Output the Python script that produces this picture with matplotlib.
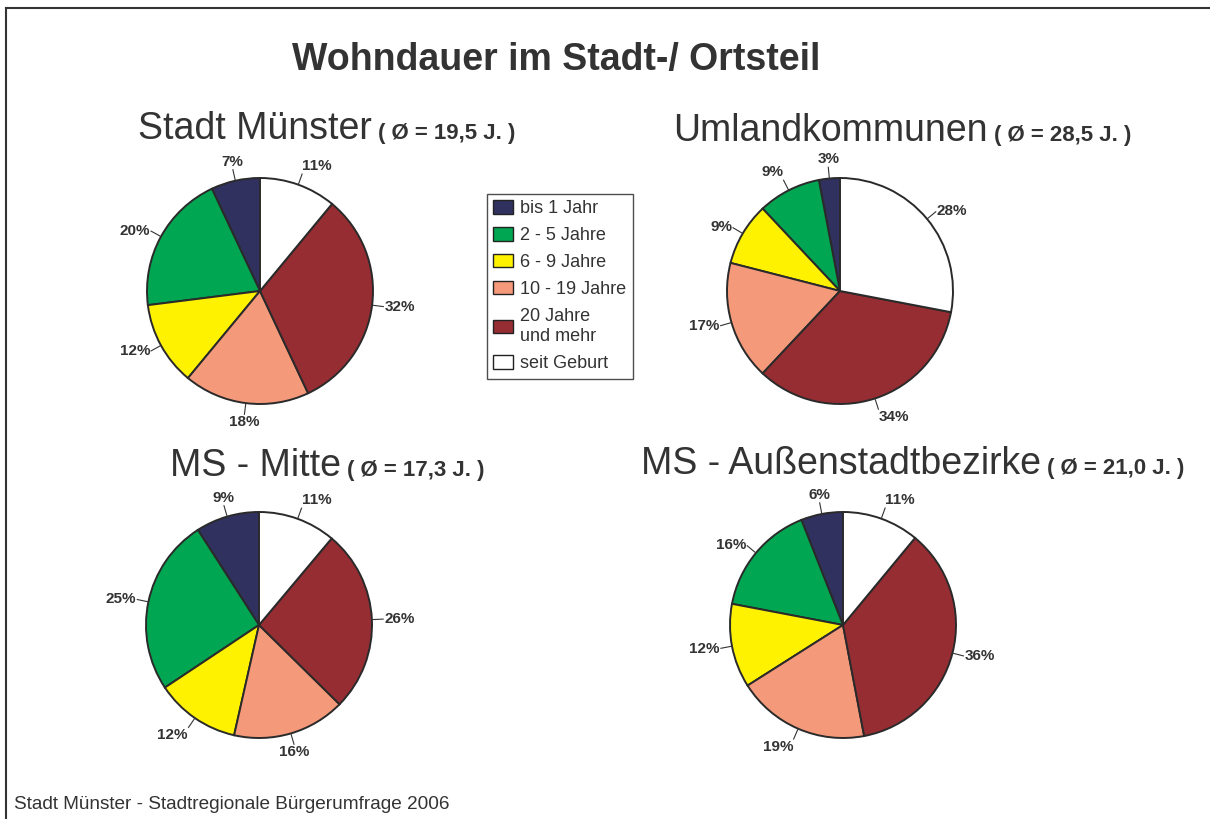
import numpy as np
import matplotlib
matplotlib.use('Agg')
import matplotlib.pyplot as plt
from matplotlib.patches import Patch
from matplotlib.lines import Line2D

plt.rcParams['font.family'] = ['Liberation Sans', 'DejaVu Sans']

# Daten
categories = ['bis 1 Jahr', '2 - 5 Jahre', '6 - 9 Jahre', '10 - 19 Jahre',
              '20 Jahre\nund mehr', 'seit Geburt']
colors = ['#313160', '#00A651', '#FFF200', '#F4997A', '#962D32', '#FFFFFF']

regions = ['Stadt Münster', 'Umlandkommunen', 'MS - Mitte', 'MS - Außenstadtbezirke']
averages = ['19,5', '28,5', '17,3', '21,0']
stadt_muenster = [7, 20, 12, 18, 32, 11]
umland = [3, 9, 9, 17, 34, 28]
ms_mitte = [9, 25, 12, 16, 26, 11]
ms_aussen = [6, 16, 12, 19, 36, 11]
shares = [stadt_muenster, umland, ms_mitte, ms_aussen]

W, H = 1210, 819
TXT = '#333333'

# Layout in Pixeln: Kreismitte, Radius, Überschrift (Ende Großtext, Grundlinie)
centers = [(260, 291), (840, 291), (259, 625), (843, 625)]
R = 113
heads = [(372, 139), (988, 141), (341, 476), (1041, 474)]

fig = plt.figure(figsize=(W / 100, H / 100), dpi=100)


def fx(x):
    return x / W


def fy(y):
    return 1 - y / H


# Rahmen (nur oben und links sichtbar)
for xs, ys in [((6, W), (8, 8)), ((6, 6), (8, H))]:
    fig.lines.append(Line2D([fx(v) for v in xs], [fy(v) for v in ys],
                            transform=fig.transFigure, color='#333333', linewidth=1.5))

fig.text(fx(556), fy(70), 'Wohndauer im Stadt-/ Ortsteil', ha='center', va='baseline',
         fontsize=27, fontweight='bold', color=TXT)

k = 1.45
for vals, name, avg, (cx, cy), (hx, hy) in zip(shares, regions, averages, centers, heads):
    size = 2 * k * R
    ax = fig.add_axes([fx(cx - size / 2), fy(cy + size / 2), size / W, size / H])
    wedges, _ = ax.pie(vals, colors=colors, startangle=90, counterclock=True,
                       wedgeprops=dict(edgecolor='#2a2a2a', linewidth=1.4))
    ax.set_xlim(-k, k)
    ax.set_ylim(-k, k)
    ax.set_aspect('equal')
    ax.axis('off')
    for w, v in zip(wedges, vals):
        ang = np.deg2rad((w.theta1 + w.theta2) / 2)
        c, s = np.cos(ang), np.sin(ang)
        ax.plot([c, 1.1 * c], [s, 1.1 * s], color=TXT, lw=0.8)
        ha = 'left' if c > 0.3 else ('right' if c < -0.3 else 'center')
        va = 'bottom' if s > 0.7 else ('top' if s < -0.7 else 'center')
        ax.text(1.11 * c, 1.11 * s, f'{v}%', ha=ha, va=va, fontsize=11,
                fontweight='bold', color=TXT)

    fig.text(fx(hx), fy(hy), name, ha='right', va='baseline', fontsize=27, color=TXT)
    fig.text(fx(hx + 6), fy(hy), f'( Ø = {avg} J. )', ha='left', va='baseline',
             fontsize=16, fontweight='bold', color=TXT)

handles = [Patch(facecolor=c, edgecolor='#222222', linewidth=1.0) for c in colors]
leg = fig.legend(handles, categories, loc='upper left',
                 bbox_to_anchor=(fx(487), fy(194)), fontsize=13, frameon=True,
                 fancybox=False, edgecolor='#222222', handlelength=1.1,
                 handleheight=0.75, handletextpad=0.4, labelspacing=0.55,
                 borderpad=0.35, borderaxespad=0)
leg.get_frame().set_linewidth(1.0)
for t in leg.get_texts():
    t.set_color(TXT)
    t.set_linespacing(1.25)

fig.text(fx(14), fy(809), 'Stadt Münster - Stadtregionale Bürgerumfrage 2006',
         ha='left', va='baseline', fontsize=13.7, color=TXT)

fig.savefig('out.png', dpi=100, facecolor='white')
